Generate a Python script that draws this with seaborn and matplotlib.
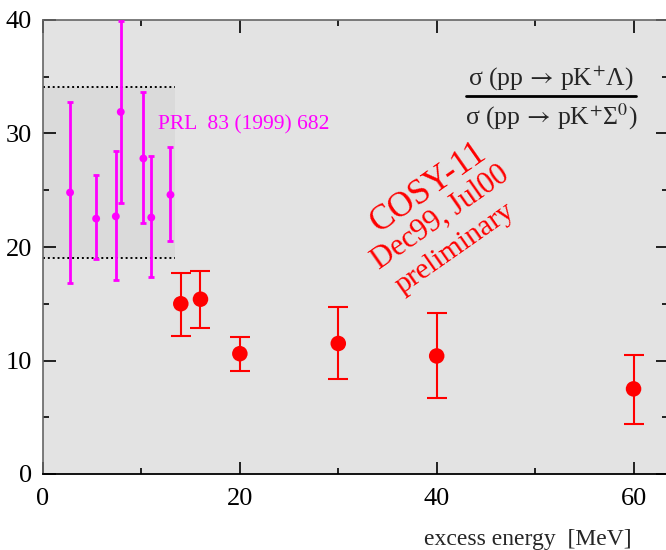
import numpy as np
import pandas as pd
import matplotlib
matplotlib.use("Agg")
import matplotlib.pyplot as plt
import seaborn as sns

# COSY-11 (red) data
cosy_x = [14, 16, 20, 30, 40, 60]
cosy_y = [15.0, 15.4, 10.6, 11.5, 10.4, 7.5]
cosy_lo = [12.2, 12.9, 9.1, 8.4, 6.7, 4.4]
cosy_hi = [17.7, 17.9, 12.1, 14.7, 14.2, 10.5]

# PRL 83 (1999) 682 (magenta) data
prl_x = [2.75, 5.4, 7.4, 7.9, 10.2, 11.0, 12.95]
prl_y = [24.8, 22.5, 22.7, 31.9, 27.8, 22.6, 24.6]
prl_lo = [16.8, 18.9, 17.1, 23.9, 22.1, 17.4, 20.5]
prl_hi = [32.8, 26.3, 28.5, 39.9, 33.7, 28.0, 28.8]

xticks = [0, 20, 40, 60]
yticks = [0, 10, 20, 30, 40]

sns.set_style("ticks")
plt.rcParams['font.family'] = ['Liberation Serif', 'DejaVu Serif']
plt.rcParams['mathtext.fontset'] = 'stix'

fig = plt.figure(figsize=(6.66, 5.5), dpi=100)
ax = fig.add_axes([43/666, 1-474/550, 1.003 - 43/666, (474-20)/550])
ax.set_facecolor('#e3e3e3')

# inner shaded band
ax.fill_between([0, 13.4], 19.0, 34.1, color='#dadada', lw=0, zorder=0)
ax.plot([0, 13.4], [34.1, 34.1], ls=(0, (1, 1.5)), color='black', lw=1.4, zorder=1)
ax.plot([0, 13.4], [19.0, 19.0], ls=(0, (1, 1.5)), color='black', lw=1.4, zorder=1)

cosy = pd.DataFrame({'x': cosy_x, 'y': cosy_y, 'lo': cosy_lo, 'hi': cosy_hi})
prl = pd.DataFrame({'x': prl_x, 'y': prl_y, 'lo': prl_lo, 'hi': prl_hi})

ax.errorbar(prl['x'], prl['y'], yerr=[prl['y'] - prl['lo'], prl['hi'] - prl['y']],
            fmt='none', ecolor='#ff00ff', elinewidth=2.0, capsize=2.5, capthick=2.0, zorder=3)
sns.scatterplot(data=prl, x='x', y='y', ax=ax, color='#ff00ff', s=32, edgecolor='none', zorder=4)

ax.errorbar(cosy['x'], cosy['y'], yerr=[cosy['y'] - cosy['lo'], cosy['hi'] - cosy['y']],
            fmt='none', ecolor='#ff0000', elinewidth=1.5, capsize=7, capthick=1.5, zorder=3)
sns.scatterplot(data=cosy, x='x', y='y', ax=ax, color='#ff0000', s=125, edgecolor='none', zorder=4)

ax.set_xlim(0, 63.5)
ax.set_ylim(0, 40)
ax.set_xticks(xticks)
ax.set_yticks(yticks)
ax.set_xticks([10, 30, 50], minor=True)
ax.set_yticks([5, 15, 25, 35], minor=True)
ax.tick_params(which='both', direction='in', top=True, right=True, labelsize=19, colors='black')
ax.tick_params(which='major', length=9, width=1.2, pad=10)
ax.tick_params(which='minor', length=4, width=1.2)
ax.tick_params(axis='y', pad=8)
for s in ['top', 'left', 'right']:
    ax.spines[s].set_color('#666666')
    ax.spines[s].set_linewidth(1.2)
ax.spines['bottom'].set_color('black')
ax.spines['bottom'].set_linewidth(1.3)
ax.set_xlabel('')
ax.set_ylabel('')

fig.text(632/666, 1-540/550, 'excess energy  [MeV]', ha='right', va='center', fontsize=17)

ax.text(11.7, 30.8, 'PRL  83 (1999) 682', color='#ff00ff', fontsize=15.5,
        ha='left', va='center')

# fraction
fig.text(551/666, 1-78/550, 'σ (pp$\\,\\rightarrow\\,$pK$^{+}$Λ)',
         ha='center', va='center', fontsize=18.5)
fig.text(551/666, 1-117/550, 'σ (pp$\\,\\rightarrow\\,$pK$^{+}$Σ$^{0}$)',
         ha='center', va='center', fontsize=18.5)
fig.add_artist(plt.Line2D([466/666, 636/666], [1-96/550, 1-96/550], color='black', lw=2))

# red rotated annotation
fig.text(428/666, 1-188/550, 'COSY-11', color='red', fontsize=25, rotation=35,
         ha='center', va='center', rotation_mode='anchor')
fig.text(440/666, 1-218/550, 'Dec99, Jul00', color='red', fontsize=22, rotation=35,
         ha='center', va='center', rotation_mode='anchor')
fig.text(455/666, 1-248/550, 'preliminary', color='red', fontsize=21.5, rotation=35,
         ha='center', va='center', rotation_mode='anchor')

fig.savefig('out.png', dpi=100)
